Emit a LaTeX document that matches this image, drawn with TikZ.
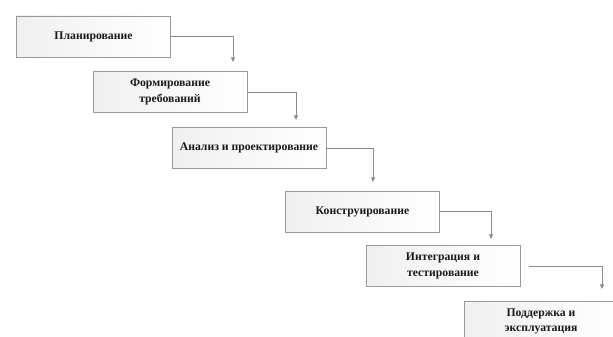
\documentclass[tikz,border=0pt]{standalone}
\usepackage{fontspec}
\setmainfont{Liberation Serif}
\usetikzlibrary{arrows.meta}
\begin{document}
\begin{tikzpicture}[x=0.03cm, y=-0.03cm,
        stage/.style={rectangle, draw=black!40, line width=0.6pt, left color=black!6, right color=white,
            minimum width=4.62cm, minimum height=1.23cm, align=center, text=black!90,
            font=\fontsize{10}{13}\selectfont\bfseries},
        flow/.style={draw=black!45, line width=0.7pt, -{Triangle[length=4pt, width=3.5pt]}}
    ]
        \useasboundingbox (0,0) rectangle (613,337);
        \clip (0,0) rectangle (613,337);

        \node[stage] (plan) at (93.5,36.5) {Планирование};
        \node[stage] (req) at (170,92) {Формирование\\требований};
        \node[stage] (design) at (249,148) {Анализ и проектирование};
        \node[stage] (build) at (362.5,211.5) {Конструирование};
        \node[stage] (integ) at (443,266) {Интеграция и\\тестирование};
        \node[stage] (support) at (541,321.5) {Поддержка и\\эксплуатация};

        \coordinate (t1) at (233,62);
        \coordinate (t2) at (296,120);
        \coordinate (t3) at (373,182);
        \coordinate (t4) at (491,239);
        \coordinate (t5) at (602,289);

        \draw[flow] (plan.east) -| (t1);
        \draw[flow] (req.east) -| (t2);
        \draw[flow] (design.east) -| (t3);
        \draw[flow] (build.east) -| (t4);
        \draw[flow, shorten <=7.6pt] (integ.east) -| (t5);
    \end{tikzpicture}
\end{document}
